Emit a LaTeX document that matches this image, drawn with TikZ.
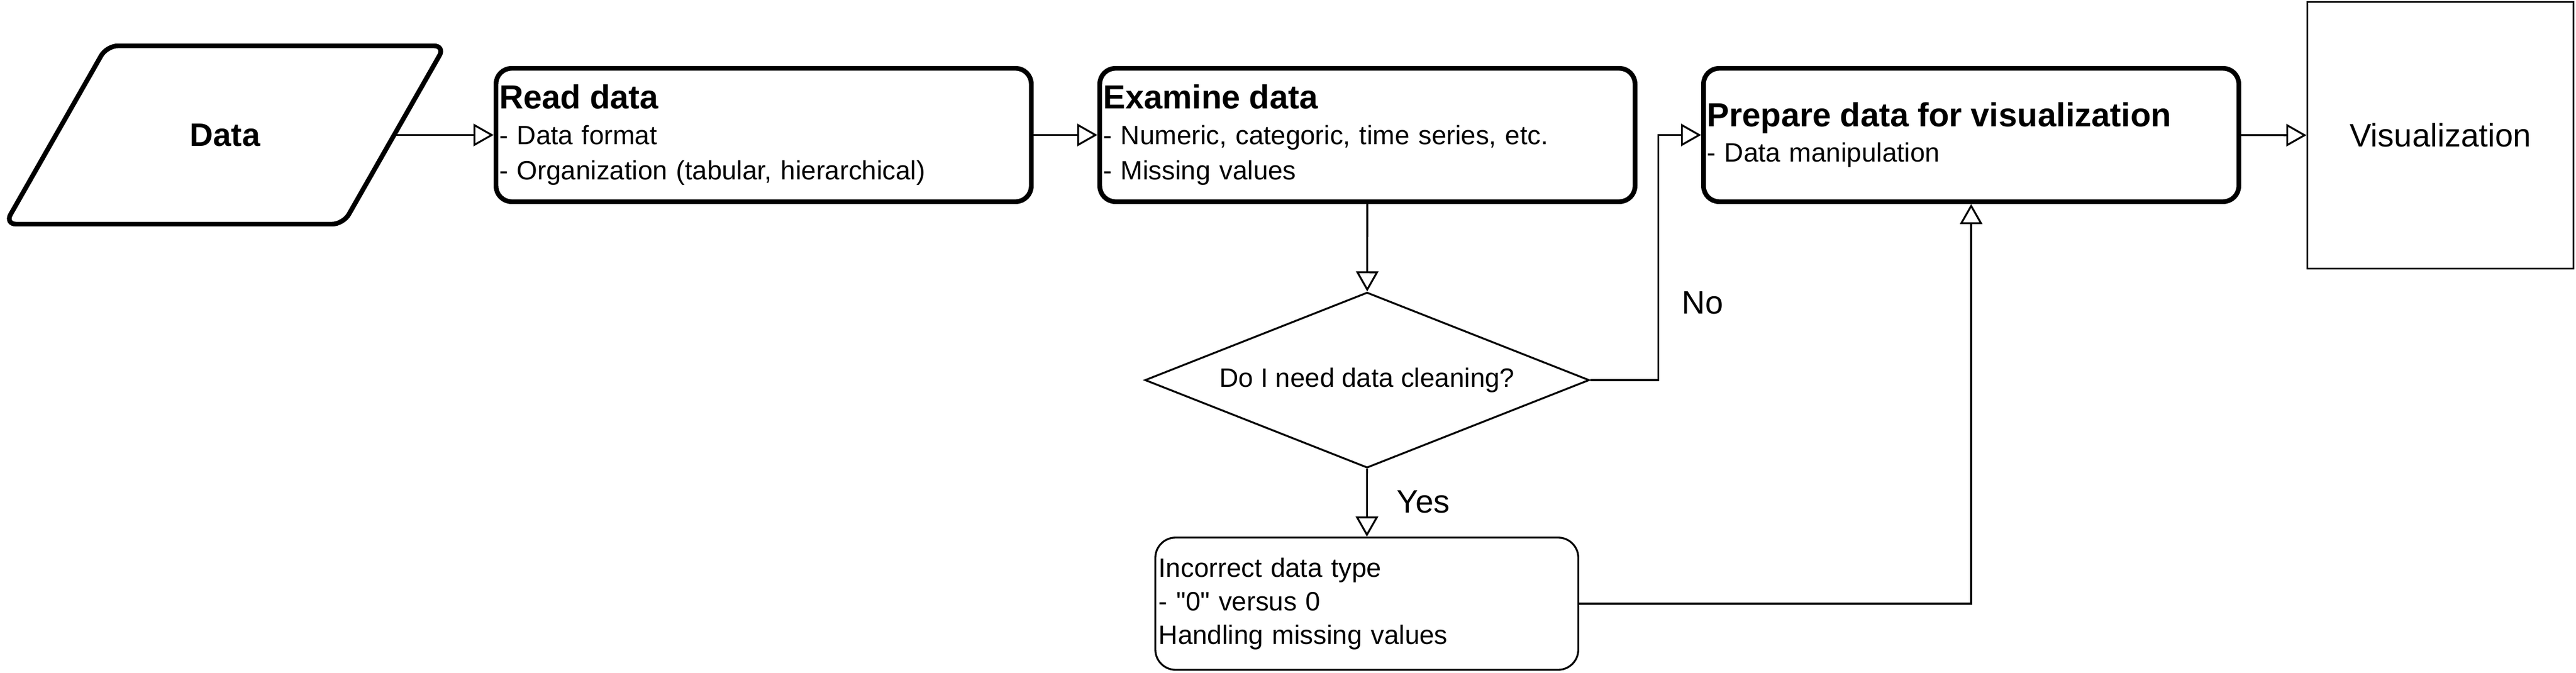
\documentclass[tikz,border=0pt]{standalone}
\usepackage{fontspec}
\setmainfont{Liberation Sans}[Ligatures=TeXOff]
\usetikzlibrary{shapes.geometric,arrows.meta,positioning}

\begin{document}
\begin{tikzpicture}[>={Triangle[open,length=0.36cm,width=0.4cm]},
flow/.style = {->, line width=0.95pt},
io/.style = {inner sep=0pt, outer sep=0pt, minimum width=6.05cm, minimum height=3.19cm, font=\fontsize{16.5}{20}\selectfont\bfseries},
block/.style = {draw, line width=2.4pt, rounded corners=0.28cm, minimum height=2.385cm, text width=9.455cm, inner xsep=0.06cm, align=left, font=\fontsize{13.5}{18}\selectfont},
decision/.style = {draw, diamond, aspect=2.53, minimum width=7.95cm, minimum height=3.14cm, inner sep=0pt, line width=0.95pt, font=\fontsize{13.5}{17}\selectfont},
note/.style = {draw, line width=0.95pt, rounded corners=0.36cm, minimum height=2.365cm, text width=7.445cm, inner xsep=0.06cm, align=left, font=\fontsize{13.5}{17}\selectfont},
result/.style = {draw, line width=0.95pt, minimum width=4.76cm, minimum height=4.77cm, font=\fontsize{16.5}{20}\selectfont},
answer/.style = {font=\fontsize{16.5}{20}\selectfont}]
\useasboundingbox (0,0) rectangle (46.08,-12.04);
\node (data) at (4.025,-2.415)[io] {Data};
\draw[line width=2.4pt, rounded corners=0.2cm] ([xshift=0.91cm]data.north west)--([xshift=0.91cm]data.north east)--([xshift=-0.91cm]data.south east)--([xshift=-0.91cm]data.south west)--cycle;
\node (read) at (13.66,-2.415)[block] {{\fontsize{17}{17}\selectfont\bfseries Read data}\\- Data format\\- Organization (tabular, hierarchical)};
\node (exam) at (24.46,-2.415)[block] {{\fontsize{17}{17}\selectfont\bfseries Examine data}\\- Numeric, categoric, time series, etc.\\- Missing values};
\node (prep) at (35.26,-2.415)[block] {{\fontsize{17}{17}\selectfont\bfseries Prepare data for visualization}\\- Data manipulation};
\node (vis) at (43.655,-2.42)[result] {Visualization};
\node (ask) at (24.455,-6.80)[decision] {Do I need data cleaning?};
\node (clean) at (24.45,-10.80)[note] {Incorrect data type\\- "0" versus 0\\Handling missing values};
\node (no) at (30.46,-5.42)[answer] {No};
\node (yes) at (25.46,-8.98)[answer] {Yes};
\draw[flow] (data)--(read);
\draw[flow] (read)--(exam);
\draw[flow] (exam)--(ask);
\draw[flow] (ask.east)--++(1.22,0)|-(prep.west);
\draw[flow] (ask)--(clean);
\draw[flow] (clean.east)-|(prep.south);
\draw[flow] (prep)--(vis);
\end{tikzpicture}
\end{document}
